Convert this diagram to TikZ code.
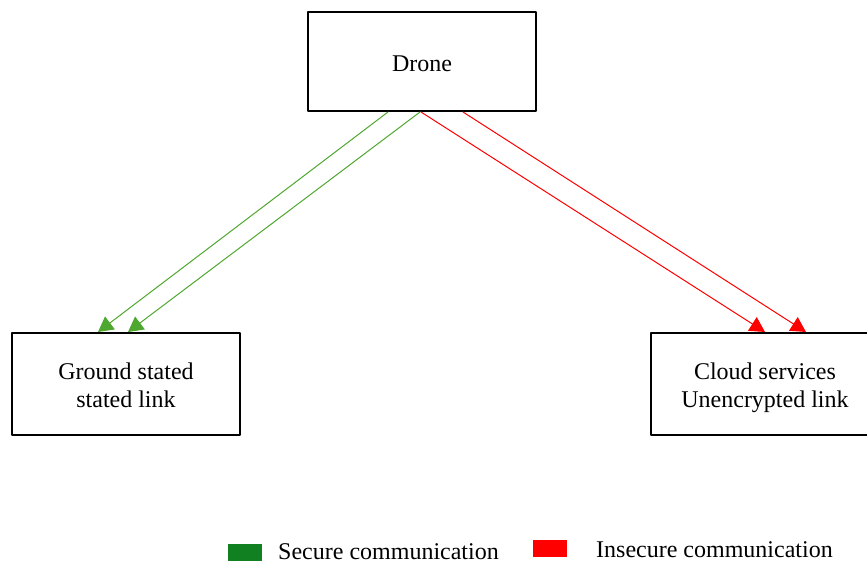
\documentclass[tikz,border=0pt]{standalone}
\usepackage{fontspec}
\setmainfont{Liberation Serif}
\usetikzlibrary{arrows.meta}
\usetikzlibrary{positioning}
\definecolor{safegreen}{RGB}{78,167,46}
\definecolor{keygreen}{RGB}{16,128,32}
\definecolor{unsafered}{RGB}{255,0,0}
\newcommand{\topstrut}{\rule{0pt}{27.6pt}}
\tikzset{
  box/.style={draw,line width=2pt,minimum width=228pt,align=center,font=\fontsize{24}{28}\selectfont},
  secure/.style={->,color=safegreen,line width=1pt},
  insecure/.style={->,color=unsafered,line width=1pt},
  swatch/.style={minimum width=34pt,minimum height=17pt,inner sep=0pt},
  keytext/.style={anchor=west,inner sep=0pt,font=\fontsize{24}{28}\selectfont}
}
\begin{document}
\begin{tikzpicture}[line cap=round,line join=round,>={Triangle[length=15pt,width=16pt]},x=1pt,y=-1pt]
\useasboundingbox (0,0) rectangle (867,564);
\node[box,minimum height=99pt,text height=20pt,text depth=0pt] (drone) at (422,61.5) {Drone};
\node[box,minimum height=102pt] (ground) at (126,384) {\topstrut Ground stated\\\strut stated link};
\node[box,minimum height=102pt] (cloud) at (765,384) {\topstrut Cloud services\\\strut Unencrypted link};
% secure links
\draw[secure] ([xshift=-34pt]drone.south) -- ([xshift=-28pt]ground.north);
\draw[secure] ([xshift=-2pt]drone.south) -- ([xshift=2pt]ground.north);
% insecure links
\draw[insecure] ([xshift=-1pt]drone.south) -- (cloud.north);
\draw[insecure] ([xshift=41pt]drone.south) -- ([xshift=41pt]cloud.north);
% legend
\node[swatch,fill=keygreen] (keysafe) at (245,552.5) {};
\node[keytext] (keysafetext) at (278,552) {Secure communication};
\node[swatch,fill=unsafered] (keyunsafe) at (550,548.5) {};
\node[keytext] (keyunsafetext) at (596,550) {Insecure communication};
\end{tikzpicture}
\end{document}
